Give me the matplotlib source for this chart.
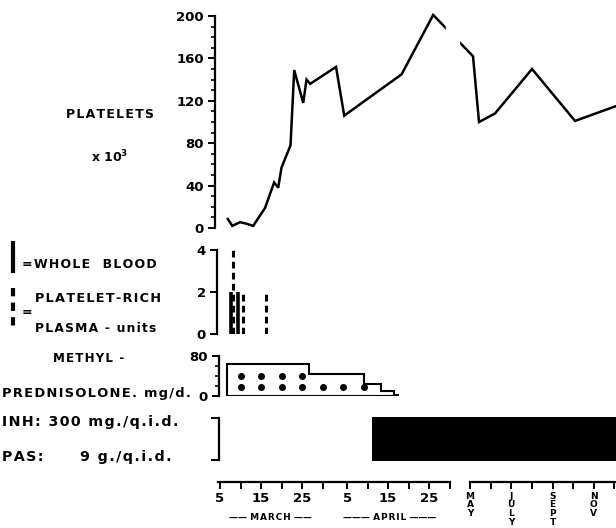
import numpy as np
import matplotlib
matplotlib.use("Agg")
import matplotlib.pyplot as plt
from matplotlib.lines import Line2D

# Days counted from end of February: March 5 -> 5, April 5 -> 36, May 1 -> 62
platelet_days = [6.9, 8.0, 9.9, 11.5, 13.1, 16.0, 18.2, 19.2, 20.0, 22.2, 23.1,
                 25.3, 26.1, 27.0, 33.3, 35.3, 49.3, 57.0, 66.5, 75.4, 99.2,
                 154.3, 218.3, 279.3]
platelet_counts = [8.5, 2, 5.5, 4, 2, 19, 43, 38, 57, 78, 149, 118, 140, 136,
                   152, 106, 145, 201, 162, 100, 108, 150, 101, 115]

whole_blood_days = [7.7, 9.5]
whole_blood_units = [2, 2]
prp_days = [8.2, 10.5, 16.2]
prp_units = [4, 2, 2]

mp_edges = [6.6, 26.8, 40.2, 44.2, 47.5, 48.5]
mp_dose = [64, 44, 25, 10, 3]
dot_days = [10, 15, 20, 25, 30, 35, 40, 10, 15, 20, 25]
dot_level = [18, 18, 18, 18, 18, 18, 18, 40, 40, 40, 40]

inh_start = 42
inh_end = 400

march_april_ticks = [5, 10, 15, 20, 25, 30, 36, 41, 46, 51, 56, 61]
march_april_labels = ["5", "", "15", "", "25", "", "5", "", "15", "", "25", ""]
month_ticks = [62, 93, 123, 154, 185, 215, 246, 276]
month_labels = ["M\nA\nY", "", "J\nU\nL\nY", "", "S\nE\nP\nT", "", "N\nO\nV", ""]

# broken time axis: days in March/April are wide, later months compressed
T_KNOTS = np.array([-100, 5, 61, 62, 400], dtype=float)
PX_KNOTS = np.array([220 - 105 * 4.1, 220, 220 + 56 * 4.1, 470, 470 + 338 * 0.672])


def fwd(t):
    return np.interp(t, T_KNOTS, PX_KNOTS)


def inv(p):
    return np.interp(p, PX_KNOTS, T_KNOTS)


W, H = 616, 528
fig = plt.figure(figsize=(W / 100, H / 100), dpi=100)
FONT = dict(family="DejaVu Sans", fontweight="bold")


def add_ax(left, top, bottom, right=W):
    ax = fig.add_axes([left / W, 1 - bottom / H, (right - left) / W, (bottom - top) / H])
    ax.set_xscale("function", functions=(fwd, inv))
    ax.set_xlim(inv(left), inv(right))
    ax.patch.set_alpha(0)
    for s in ("top", "right", "bottom"):
        ax.spines[s].set_visible(False)
    ax.spines["left"].set_linewidth(1.6)
    ax.set_xticks([])
    ax.tick_params(axis="y", direction="out", width=1.4, length=5, pad=3,
                   labelsize=9.5)
    return ax


def bold_ticks(ax):
    for lab in ax.get_yticklabels() + ax.get_xticklabels():
        lab.set_fontweight("bold")


# Platelets
ax1 = add_ax(215, 16, 228)
ax1.plot(platelet_days, platelet_counts, color="black", lw=1.8, clip_on=False,
         solid_joinstyle="miter")
ax1.axvspan(60.1, 61.46, color="white", zorder=5)
ax1.set_ylim(0, 200)
ax1.set_yticks([0, 40, 80, 120, 160, 200])
ax1.set_yticks(np.arange(0, 201, 10), minor=True)
ax1.tick_params(axis="y", which="minor", length=3, width=1.2)
bold_ticks(ax1)

# Transfusions
ax2 = add_ax(217, 250, 334)
ax2.vlines(whole_blood_days, 0, whole_blood_units, color="black", lw=2.6)
ax2.vlines(prp_days, 0, prp_units, color="black", lw=2.2,
           linestyles=(0, (2.2, 1.4)))
ax2.set_ylim(0, 4)
ax2.set_yticks([0, 2, 4])
bold_ticks(ax2)

# Methylprednisolone
ax3 = add_ax(219, 356, 396)
ax3.stairs(mp_dose, mp_edges, baseline=0, color="black", lw=1.5)
ax3.hlines(0, mp_edges[0], mp_edges[-1], color="black", lw=1.5)
ax3.scatter(dot_days, dot_level, s=16, color="black", zorder=3)
ax3.set_ylim(0, 80)
ax3.set_yticks([0, 80])
ax3.set_yticks([20, 40, 60], minor=True)
ax3.tick_params(axis="y", which="minor", length=3, width=1.2)
bold_ticks(ax3)

# INH / PAS
ax4 = add_ax(219, 418, 460)
ax4.fill_between([inh_start, inh_end], -0.03, 1.03, color="black", lw=0,
                 clip_on=False)
ax4.set_ylim(0, 1)
ax4.set_yticks([0, 1])
ax4.set_yticklabels([])
ax4.tick_params(axis="y", length=6)

# Time axes
for left, right, ticks, labels, size in [
        (218, 449.6, march_april_ticks, march_april_labels, 9.5),
        (470, W, month_ticks, month_labels, 6.5)]:
    axt = fig.add_axes([left / W, 1 - 482 / H, (right - left) / W, 10 / H])
    axt.set_xscale("function", functions=(fwd, inv))
    axt.set_xlim(inv(left), inv(right))
    axt.patch.set_alpha(0)
    for s in ("top", "right", "left"):
        axt.spines[s].set_visible(False)
    axt.spines["bottom"].set_linewidth(1.6)
    axt.set_yticks([])
    axt.set_xticks(ticks)
    axt.set_xticklabels(labels, fontsize=size, fontweight="bold",
                        linespacing=0.95, va="top")
    axt.tick_params(axis="x", direction="out", length=5, width=1.4, pad=2)


# Left side labels, letter-spaced with hair spaces
def spaced(s):
    return "\u200a".join(s)


fig.text(270 / W, 1 - 518 / H, "—— " + spaced("MARCH") + " ——", fontsize=6.5,
         ha="center", va="center", **FONT)
fig.text(390 / W, 1 - 518 / H, "——— " + spaced("APRIL") + " ———", fontsize=6.5,
         ha="center", va="center", **FONT)


def label(x, y, s, ha="left", size=9):
    fig.text(x / W, 1 - y / H, spaced(s), ha=ha, va="center", fontsize=size, **FONT)


label(110, 115, "PLATELETS", ha="center")
fig.text(110 / W, 1 - 157 / H, r"x 10$^{\mathbf{3}}$", ha="center", va="center",
         fontsize=9, **FONT)
fig.add_artist(Line2D([13 / W, 13 / W], [1 - 243 / H, 1 - 271 / H], color="black",
                      lw=3))
label(22, 265, "=WHOLE  BLOOD")
fig.add_artist(Line2D([13 / W, 13 / W], [1 - 288 / H, 1 - 330 / H], color="black",
                      lw=3, ls=(0, (2, 1.5))))
label(22, 313, "=")
label(35, 298, "PLATELET-RICH", size=9.3)
label(35, 329, "PLASMA - units", size=8.8)
label(53, 358, "METHYL -", size=8.6)
label(2, 393, "PREDNISOLONE. mg/d.", size=9.4)
label(2, 422, "INH: 300 mg./q.i.d.", size=10.3)
label(2, 457, "PAS:", size=10.3)
label(80, 457, "9 g./q.i.d.", size=10.3)

fig.savefig("out.png", dpi=100)
